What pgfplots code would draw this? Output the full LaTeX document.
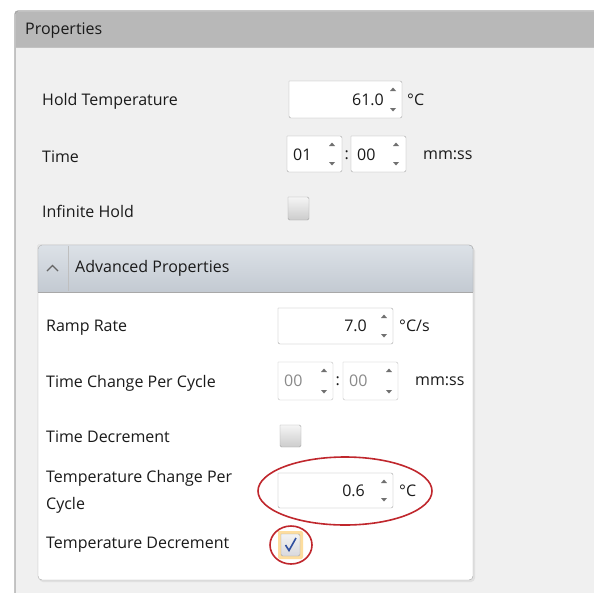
\documentclass[border=0pt]{standalone}
\usepackage{pgfplots}
\pgfplotsset{compat=1.18}
\usepackage{fontspec}
\setmainfont{Open Sans}
\definecolor{panelbg}{HTML}{F0F0F0}
\definecolor{headbar}{HTML}{B8B8B8}
\definecolor{border}{HTML}{A8A8A8}
\definecolor{boxborder}{HTML}{A5A5A5}
\definecolor{txt}{HTML}{1A1A1A}
\definecolor{graytxt}{HTML}{8A8A8A}
\definecolor{ghtop}{HTML}{DCE1E7}
\definecolor{ghbot}{HTML}{C3CAD2}
\definecolor{redmark}{HTML}{C0272D}
\definecolor{checkblue}{HTML}{2F4F9F}
\definecolor{arrowgray}{HTML}{707070}
% rectangle: x1 y1 x2 y2 fill draw
\newcommand{\uirect}[6]{\addplot[fill=#5,draw=#6,mark=none,rounded corners=2pt] coordinates {(#1,#2) (#3,#2) (#3,#4) (#1,#4) (#1,#2)};}
% spinner arrows: x ytop ybottom
\newcommand{\spin}[3]{%
\addplot[fill=arrowgray,draw=none,mark=none] coordinates {(#1-3,#2+10) (#1+3,#2+10) (#1,#2+6.5) (#1-3,#2+10)};
\addplot[fill=arrowgray,draw=none,mark=none] coordinates {(#1-3,#3-10) (#1+3,#3-10) (#1,#3-6.5) (#1-3,#3-10)};}
\newcommand{\lbl}[3]{\node[anchor=west,text=#3,inner sep=0pt] at (axis cs:#1) {#2};}
\begin{document}
\begin{tikzpicture}[font=\fontsize{16}{19}\selectfont]
\begin{axis}[width=594pt,height=592pt,scale only axis,
  xmin=0,xmax=594,ymin=0,ymax=592,y dir=reverse,
  axis lines=none,clip=true]
% backgrounds
\addplot[fill=white,draw=none,mark=none] coordinates {(0,0) (594,0) (594,592) (0,592) (0,0)};
\addplot[fill=panelbg,draw=none,mark=none] coordinates {(15,11) (600,11) (600,600) (15,600) (15,11)};
\addplot[fill=headbar,draw=none,mark=none] coordinates {(16,12) (600,12) (600,47) (16,47) (16,12)};
\addplot[draw=border,mark=none,line width=1.2pt,rounded corners=3pt] coordinates {(15,600) (15,11) (600,11)};
\addplot[draw=border!70,mark=none] coordinates {(16,47.5) (600,47.5)};
\node[anchor=west,text=txt,inner sep=0pt] at (axis cs:25,31) {Properties};
% hold temperature
\lbl{42,101}{Hold Temperature}{txt}
\uirect{289}{81}{402}{118}{white}{boxborder}
\node[anchor=east,text=txt,inner sep=0pt] at (axis cs:384,100) {61.0};
\spin{393}{81}{118}
\lbl{407,100}{°C}{txt}
% time
\lbl{42,157}{Time}{txt}
\uirect{287}{136}{342}{172}{white}{boxborder}
\uirect{351}{136}{406}{172}{white}{boxborder}
\lbl{293,155}{01}{txt}
\lbl{357,155}{00}{txt}
\spin{332}{136}{172}
\spin{396}{136}{172}
\lbl{344.5,155}{:}{txt}
\lbl{423,155}{mm:ss}{txt}
% infinite hold
\lbl{42,211}{Infinite Hold}{txt}
\addplot[top color=black!4,bottom color=black!20,draw=black!35,mark=none,rounded corners=1.5pt] coordinates {(288,197) (309,197) (309,220) (288,220) (288,197)};
% advanced group
\addplot[fill=black!12,draw=none,mark=none,rounded corners=4pt] coordinates {(39,247) (475,247) (475,582) (39,582) (39,247)};
\addplot[fill=white,draw=border,mark=none,rounded corners=4pt] coordinates {(38,245) (473,245) (473,580) (38,580) (38,245)};
\addplot[top color=ghtop,bottom color=ghbot,draw=border,mark=none,rounded corners=4pt] coordinates {(38,292) (38,245) (473,245) (473,292)};
\addplot[draw=border,mark=none] coordinates {(38,292) (473,292)};
\addplot[draw=black!25,mark=none] coordinates {(68,246) (68,291)};
\addplot[draw=black!60,mark=none,line width=1.3pt] coordinates {(47,271) (52.5,265.5) (58,271)};
\lbl{75,268}{Advanced Properties}{txt}
% ramp rate
\lbl{46,328}{Ramp Rate}{txt}
\uirect{278}{308}{393}{344}{white}{boxborder}
\node[anchor=east,text=txt,inner sep=0pt] at (axis cs:367,326) {7.0};
\spin{384}{308}{344}
\lbl{399,326}{°C/s}{txt}
% time change per cycle
\lbl{46,383}{Time Change Per Cycle}{txt}
\uirect{278}{362}{333}{400}{white}{black!25}
\uirect{343}{362}{398}{400}{white}{black!25}
\lbl{284,381}{00}{graytxt}
\lbl{349,381}{00}{graytxt}
\spin{324}{362}{400}
\spin{389}{362}{400}
\lbl{335.5,381}{:}{txt}
\lbl{415,381}{mm:ss}{txt}
% time decrement
\lbl{46,437}{Time Decrement}{txt}
\addplot[top color=black!4,bottom color=black!20,draw=black!35,mark=none,rounded corners=1.5pt] coordinates {(280,425) (301,425) (301,447) (280,447) (280,425)};
% temperature change per cycle
\lbl{46,478}{Temperature Change Per}{txt}
\lbl{46,505}{Cycle}{txt}
\uirect{278}{473}{393}{508}{white}{boxborder}
\node[anchor=east,text=txt,inner sep=0pt] at (axis cs:365,491) {0.6};
\spin{384}{473}{508}
\lbl{399,491}{°C}{txt}
\draw[redmark,line width=1.6pt] (axis cs:345,491) ellipse [x radius=87, y radius=34];
% temperature decrement
\lbl{46,545}{Temperature Decrement}{txt}
\addplot[fill=yellow!30!orange!35,draw=none,mark=none,rounded corners=2pt] coordinates {(278,531) (303,531) (303,559) (278,559) (278,531)};
\addplot[top color=black!5,bottom color=blue!10!black!15,draw=black!35,mark=none,rounded corners=1.5pt] coordinates {(281,534) (300,534) (300,556) (281,556) (281,534)};
\addplot[draw=checkblue,mark=none,line width=1.6pt] coordinates {(285.5,545) (289,550.5) (296,538)};
\draw[redmark,line width=1.6pt] (axis cs:291,545) ellipse [x radius=21, y radius=19];
\end{axis}
\end{tikzpicture}
\end{document}
